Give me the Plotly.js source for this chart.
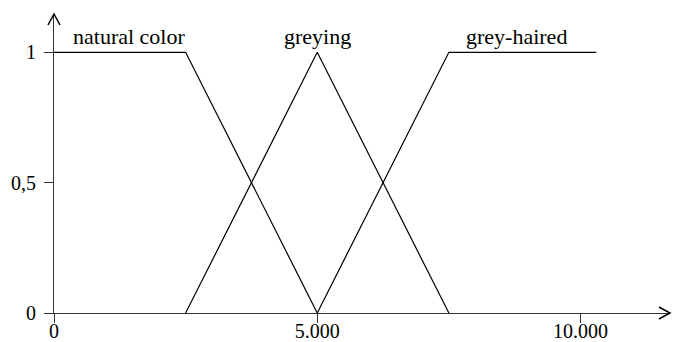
<!DOCTYPE html>
<html>
<head>
<meta charset="utf-8">
<script src="https://cdn.plot.ly/plotly-3.0.1.min.js"></script>
<style>html,body{margin:0;padding:0;background:#fff;}#chart{width:673px;height:342px;}</style>
</head>
<body>
<div id="chart"></div>
<script>
// Membership functions (x: number, y: membership degree)
const naturalX = [0, 2500, 5000];
const naturalY = [1, 1, 0];
const greyingX = [2500, 5000, 7500];
const greyingY = [0, 1, 0];
const greyHairedX = [5000, 7500, 10300];
const greyHairedY = [0, 1, 1];

const seriesNames = ['natural color', 'greying', 'grey-haired'];
const labelX = [1420, 5000, 8780];
const labelY = [1.06, 1.06, 1.06];

const xTickVals = [0, 5000, 10000];
const xTickText = ['0', '5.000', '10.000'];
const yTickVals = [0, 0.5, 1];
const yTickText = ['0', '0,5', '1'];

const W = 673, H = 342;
const M = {l: 54, r: 3, t: 14, b: 29};
const pw = W - M.l - M.r, ph = H - M.t - M.b;

const lineStyle = {color: '#000', width: 1.2};
const traces = [
  {x: naturalX, y: naturalY, name: seriesNames[0]},
  {x: greyingX, y: greyingY, name: seriesNames[1]},
  {x: greyHairedX, y: greyHairedY, name: seriesNames[2]}
].map(t => Object.assign(t, {type: 'scatter', mode: 'lines', line: lineStyle, hoverinfo: 'skip'}));

const fam = 'Liberation Serif';
const tickFont = {family: fam, size: 20, color: '#000'};
const labelFont = {family: fam, size: 22, color: '#000'};

const annotations = seriesNames.map((n, i) => ({
  x: labelX[i], y: labelY[i], xref: 'x', yref: 'y', text: n, showarrow: false,
  xanchor: 'center', yanchor: 'middle', font: labelFont
}));

// arrow heads (open chevrons) in paper coords
const ax = 6 / pw, ay = 11 / ph;
const hx = 11 / pw, hy = 6 / ph;
const shapes = [
  {type: 'path', xref: 'paper', yref: 'paper',
   path: `M ${-ax} ${1 - ay} L 0 1 L ${ax} ${1 - ay}`, line: {color: '#000', width: 1.5}},
  {type: 'path', xref: 'paper', yref: 'paper',
   path: `M ${1 - hx} ${hy} L 1 0 L ${1 - hx} ${-hy}`, line: {color: '#000', width: 1.5}}
];

const layout = {
  width: W, height: H,
  margin: M,
  paper_bgcolor: '#fff', plot_bgcolor: '#fff',
  showlegend: false,
  separators: ',.',
  font: tickFont,
  xaxis: {
    range: [0, 11700], showgrid: false, zeroline: false,
    showline: true, linecolor: '#333', linewidth: 1,
    ticks: 'outside', ticklen: 9, tickcolor: '#333', tickwidth: 1,
    tickvals: xTickVals, ticktext: xTickText, tickfont: tickFont,
    ticklabelstandoff: -9
  },
  yaxis: {
    range: [0, 1.147], showgrid: false, zeroline: false,
    showline: true, linecolor: '#333', linewidth: 1,
    ticks: 'outside', ticklen: 9, tickcolor: '#333', tickwidth: 1,
    tickvals: yTickVals, ticktext: yTickText, tickfont: tickFont,
    ticklabelstandoff: 4
  },
  annotations: annotations,
  shapes: shapes
};

Plotly.newPlot('chart', traces, layout, {staticPlot: true, displayModeBar: false});
</script>
</body>
</html>
